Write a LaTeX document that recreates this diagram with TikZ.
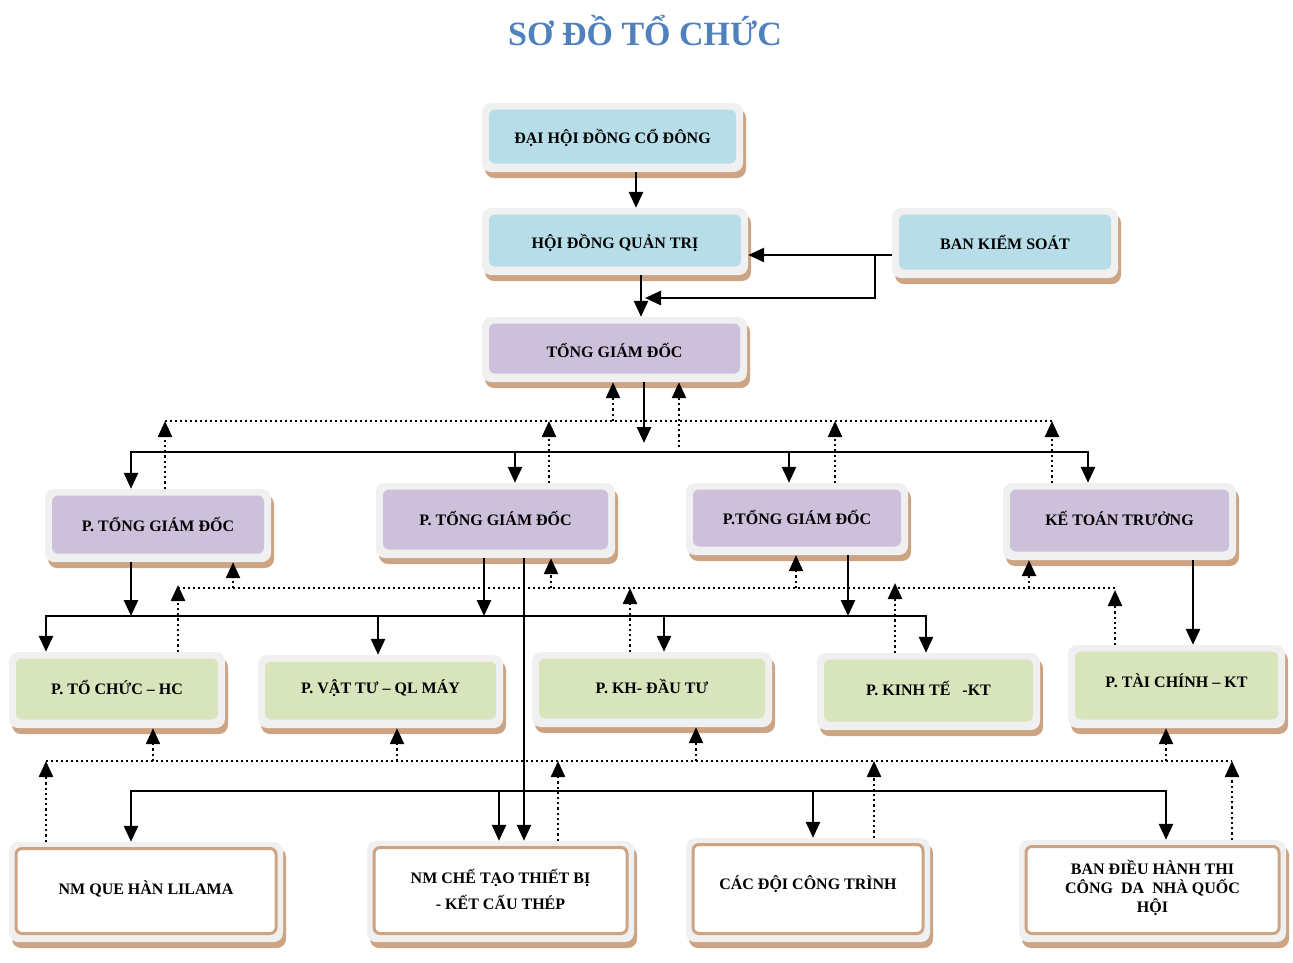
\documentclass[tikz,border=0pt]{standalone}
\usepackage{fontspec}
\setmainfont{Liberation Serif}
\usetikzlibrary{arrows.meta}
\definecolor{boxgray}{HTML}{F0F0F0}
\definecolor{tanshadow}{HTML}{CDA483}
\definecolor{lblue}{HTML}{B7DDE8}
\definecolor{lpurple}{HTML}{CCC0DA}
\definecolor{lgreen}{HTML}{D7E4BC}
\definecolor{titleblue}{HTML}{4F81BD}
\newcommand{\boxfont}{\fontsize{16}{19}\selectfont\bfseries}
% name, cx, cy, w, h, fill, draw, text, text yshift
\newcommand{\orgbox}[9]{%
  \node[outerbox, minimum width=#4pt, minimum height=#5pt] (#1) at (#2,#3) {};
  \node[innerbox, fill=#6, draw=#7, minimum width=#4pt-14pt, minimum height=#5pt-15pt] (#1-in) at ([yshift=1pt]#1.center) {};
  \node[boxtext] (#1-t) at ([yshift=#9pt]#1-in.center) {#8};
}
\tikzset{
  outerbox/.style={fill=boxgray, rounded corners=9pt, inner sep=0pt,
    preaction={fill=tanshadow, transform canvas={shift={(3pt,-6pt)}}}},
  innerbox/.style={rounded corners=6pt, inner sep=0pt, line width=3pt},
  boxtext/.style={inner sep=0pt, align=center, font=\boxfont},
  tip/.style={-{Triangle[length=16pt,width=14pt]}},
  solidv/.style={line width=2.7pt, tip},
  bus/.style={line width=2pt},
  dotv/.style={line width=2.4pt, dash pattern=on 2.2pt off 3pt, tip},
  doth/.style={line width=1.7pt, dash pattern=on 2pt off 3pt},
}
\begin{document}
\begin{tikzpicture}[x=1pt,y=-1pt]
\useasboundingbox (0,0) rectangle (1293,962);
\node[font=\fontsize{34}{40}\selectfont\bfseries, text=titleblue] (title) at (645,31) {SƠ ĐỒ TỔ CHỨC};

% level 0/1
\orgbox{dh}{612.5}{137.5}{261}{69}{lblue}{none}{ĐẠI HỘI ĐỒNG CỔ ĐÔNG}{-1}
\orgbox{hd}{615}{241.5}{266}{67}{lblue}{none}{HỘI ĐỒNG QUẢN TRỊ}{-2}
\orgbox{bks}{1005}{243}{226}{70}{lblue}{none}{BAN KIỂM SOÁT}{0}
\orgbox{tgd}{614.5}{349.5}{265}{65}{lpurple}{none}{TỔNG GIÁM ĐỐC}{-2}
% level 2
\orgbox{p1}{158}{525.5}{226}{73}{lpurple}{none}{P. TỔNG GIÁM ĐỐC}{0}
\orgbox{p2}{495.5}{520.5}{239}{75}{lpurple}{none}{P. TỔNG GIÁM ĐỐC}{1}
\orgbox{p3}{797}{519}{222}{72}{lpurple}{none}{P.TỔNG GIÁM ĐỐC}{1}
\orgbox{ktt}{1119.5}{521.5}{233}{77}{lpurple}{none}{KẾ TOÁN TRƯỞNG}{2}
% level 3
\orgbox{tc}{117}{690}{216}{76}{lgreen}{none}{P. TỔ CHỨC -- HC}{2}
\orgbox{vt}{380.5}{691.5}{245}{73}{lgreen}{none}{P. VẬT TƯ -- QL MÁY}{2}
\orgbox{kh}{652}{689.5}{240}{75}{lgreen}{none}{P. KH- ĐẦU TƯ}{2}
\orgbox{kt}{928.5}{691.5}{223}{77}{lgreen}{none}{P. KINH TẾ \ \ -KT}{2}
\orgbox{tk}{1176.5}{686.5}{217}{83}{lgreen}{none}{P. TÀI CHÍNH -- KT}{5}
% level 4
\orgbox{nmq}{146}{892}{274}{100}{white}{tanshadow}{NM QUE HÀN LILAMA}{2}
\orgbox{nmc}{500.5}{891.5}{267}{101}{white}{tanshadow}{NM CHẾ TẠO THIẾT BỊ\\[7pt]- KẾT CẤU THÉP}{1}
\orgbox{cd}{808}{890}{244}{104}{white}{tanshadow}{CÁC ĐỘI CÔNG TRÌNH}{5}
\orgbox{bdh}{1152.5}{891}{267}{102}{white}{tanshadow}{BAN ĐIỀU HÀNH THI\\CÔNG \ DA \ NHÀ QUỐC\\HỘI}{2}

% top connectors
\draw[solidv] (636,0 |- dh.south) -- (636,0 |- hd.north);
\draw[solidv] (bks.west |- 0,255) -- (hd.east |- 0,255);
\draw[solidv] (875,255) |- (645,298);
\draw[solidv] (641,0 |- hd.south) -- (641,0 |- tgd.north);
\draw[solidv] (644,0 |- tgd.south) -- (644,443);

% level 1 -> 2 solid bus
\draw[solidv] (600,452) -| (131,0 |- p1.north);
\draw[solidv] (600,452) -| (1088,0 |- ktt.north);
\draw[solidv] (515,452) -- (515,0 |- p2.north);
\draw[solidv] (789,452) -- (789,0 |- p3.north);

% level 1 <- 2 dotted
\draw[doth] (165,421) -- (1052,421);
\draw[dotv] (165,0 |- p1.north) -- (165,421);
\draw[dotv] (549,0 |- p2.north) -- (549,421);
\draw[dotv] (835,0 |- p3.north) -- (835,421);
\draw[dotv] (1052,0 |- ktt.north) -- (1052,421);
\draw[dotv] (613,421) -- (613,0 |- tgd.south);
\draw[dotv] (679,447) -- (679,0 |- tgd.south);

% level 2 -> 3 solid
\draw[solidv] (131,0 |- p1.south) -- (131,616);
\draw[solidv] (484,0 |- p2.south) -- (484,616);
\draw[solidv] (848,0 |- p3.south) -- (848,616);
\draw[solidv] (1193,0 |- ktt.south) -- (1193,0 |- tk.north);
\draw[solidv] (500,616) -| (46,0 |- tc.north);
\draw[solidv] (500,616) -| (926,0 |- kt.north);
\draw[solidv] (378,616) -- (378,0 |- vt.north);
\draw[solidv] (664,616) -- (664,0 |- kh.north);
\draw[solidv] (524,0 |- p2.south) -- (524,0 |- nmc.north);

% level 2 <- 3 dotted
\draw[doth] (178,588) -- (1115,588);
\draw[dotv] (178,0 |- tc.north) -- (178,585);
\draw[dotv] (233,588) -- (233,0 |- p1.south);
\draw[dotv] (551,588) -- (551,0 |- p2.south);
\draw[dotv] (630,0 |- kh.north) -- (630,588);
\draw[dotv] (796,588) -- (796,0 |- p3.south);
\draw[dotv] (895,0 |- kt.north) -- (895,583);
\draw[dotv] (1029,588) -- (1029,0 |- ktt.south);
\draw[dotv] (1115,0 |- tk.north) -- (1115,590);

% level 3 -> 4 solid
\draw[solidv] (500,791) -| (131,0 |- nmq.north);
\draw[solidv] (500,791) -| (1166,0 |- bdh.north);
\draw[solidv] (499,791) -- (499,0 |- nmc.north);
\draw[solidv] (813,791) -- (813,0 |- cd.north);

% level 3 <- 4 dotted
\draw[doth] (46,761) -- (1232,761);
\draw[dotv] (46,0 |- nmq.north) -- (46,761);
\draw[dotv] (153,761) -- (153,0 |- tc.south);
\draw[dotv] (397,761) -- (397,0 |- vt.south);
\draw[dotv] (558,0 |- nmc.north) -- (558,761);
\draw[dotv] (696,761) -- (696,0 |- kh.south);
\draw[dotv] (874,0 |- cd.north) -- (874,761);
\draw[dotv] (1166,761) -- (1166,0 |- tk.south);
\draw[dotv] (1232,0 |- bdh.north) -- (1232,761);
\end{tikzpicture}
\end{document}
